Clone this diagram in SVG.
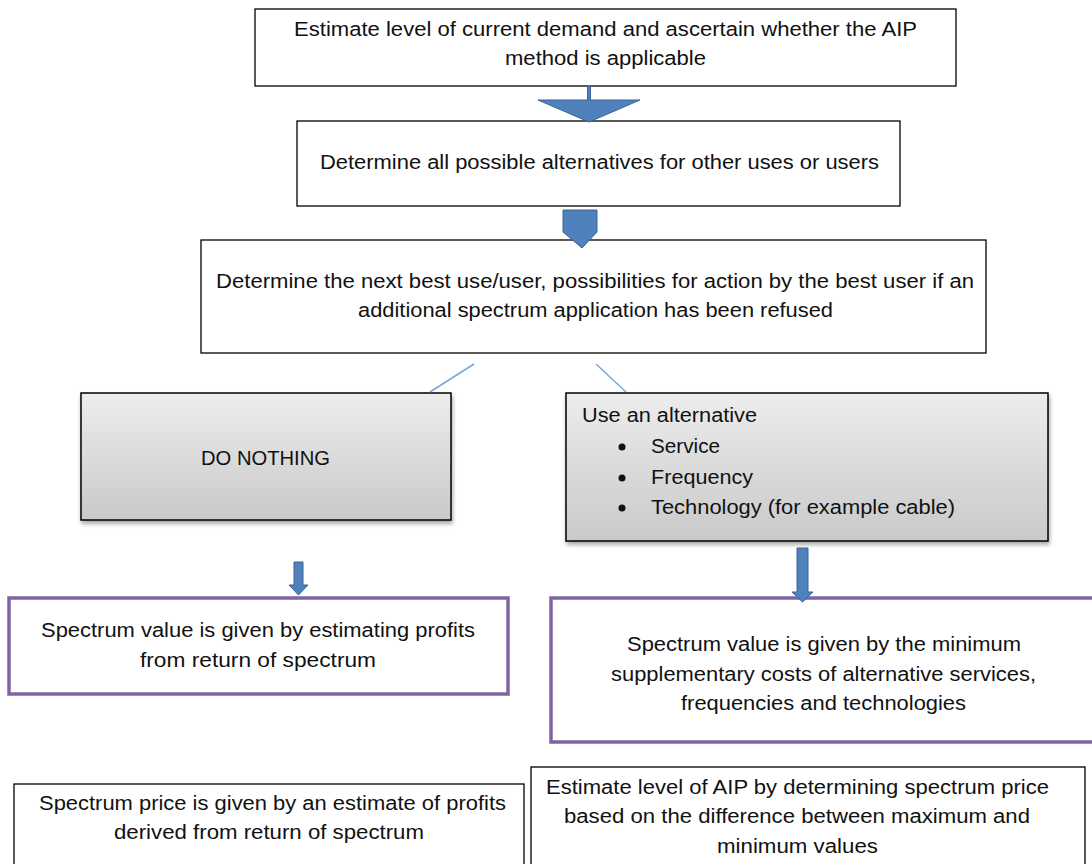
<svg xmlns="http://www.w3.org/2000/svg" width="1092" height="864" viewBox="0 0 1092 864">
<style>
.box{fill:#fff;stroke:#000;stroke-width:1.3}
.gbox{fill:url(#gg);stroke:#000;stroke-width:1.5;filter:url(#sh)}
.pbox{fill:#fff;stroke:#8064a2;stroke-width:3.5}
.t{font-family:"Liberation Sans",Arial,sans-serif;font-size:20px;fill:#111}
.c{text-anchor:middle}
.ln{stroke:#7aa6d6;stroke-width:1.5;fill:none}
.ar{fill:#4f81bd;stroke:#3a6495;stroke-width:1}
</style>
<defs>
<linearGradient id="gg" x1="0" y1="0" x2="0" y2="1">
<stop offset="0" stop-color="#ededed"/>
<stop offset="1" stop-color="#c9c9c9"/>
</linearGradient>
<filter id="sh" x="-5%" y="-5%" width="110%" height="115%">
<feDropShadow dx="1" dy="3" stdDeviation="2" flood-color="#000" flood-opacity="0.35"/>
</filter>
</defs>
<g id="n1">
<rect class="box" x="255" y="9" width="701" height="77"/>
<text class="t c" x="605.5" y="36" textLength="623" lengthAdjust="spacingAndGlyphs">Estimate level of current demand and ascertain whether the AIP</text>
<text class="t c" x="605.5" y="65" textLength="201" lengthAdjust="spacingAndGlyphs">method is applicable</text>
</g>
<g id="n2">
<rect class="box" x="297" y="121" width="603" height="85"/>
<text class="t c" x="599.5" y="169" textLength="559" lengthAdjust="spacingAndGlyphs">Determine all possible alternatives for other uses or users</text>
</g>
<g id="n3">
<rect class="box" x="201" y="240" width="785" height="113"/>
<text class="t c" x="595" y="288" textLength="758" lengthAdjust="spacingAndGlyphs">Determine the next best use/user, possibilities for action by the best user if an</text>
<text class="t c" x="595.5" y="317" textLength="475" lengthAdjust="spacingAndGlyphs">additional spectrum application has been refused</text>
</g>
<g id="n4">
<rect class="gbox" x="81" y="393" width="370" height="127"/>
<text class="t c" x="265.5" y="465" textLength="129" lengthAdjust="spacingAndGlyphs">DO NOTHING</text>
</g>
<g id="n5">
<rect class="gbox" x="566" y="393" width="482" height="148"/>
<text class="t" x="582" y="422" textLength="175" lengthAdjust="spacingAndGlyphs">Use an alternative</text>
<circle cx="622" cy="447" r="3.5" fill="#111"/>
<circle cx="622" cy="478" r="3.5" fill="#111"/>
<circle cx="622" cy="508" r="3.5" fill="#111"/>
<text class="t" x="651" y="453" textLength="69" lengthAdjust="spacingAndGlyphs">Service</text>
<text class="t" x="651" y="484" textLength="102" lengthAdjust="spacingAndGlyphs">Frequency</text>
<text class="t" x="651" y="514" textLength="304" lengthAdjust="spacingAndGlyphs">Technology (for example cable)</text>
</g>
<g id="n6">
<rect class="pbox" x="9" y="598" width="499" height="96"/>
<text class="t c" x="258" y="637" textLength="434" lengthAdjust="spacingAndGlyphs">Spectrum value is given by estimating profits</text>
<text class="t c" x="258" y="667" textLength="236" lengthAdjust="spacingAndGlyphs">from return of spectrum</text>
</g>
<g id="n7">
<rect class="pbox" x="551" y="598" width="545" height="144"/>
<text class="t c" x="824" y="651" textLength="394" lengthAdjust="spacingAndGlyphs">Spectrum value is given by the minimum</text>
<text class="t c" x="823.5" y="681" textLength="425" lengthAdjust="spacingAndGlyphs">supplementary costs of alternative services,</text>
<text class="t c" x="823.5" y="710" textLength="285" lengthAdjust="spacingAndGlyphs">frequencies and technologies</text>
</g>
<g id="n8">
<rect class="box" x="14" y="784" width="510" height="90"/>
<text class="t c" x="272.5" y="810" textLength="467" lengthAdjust="spacingAndGlyphs">Spectrum price is given by an estimate of profits</text>
<text class="t c" x="269" y="839" textLength="310" lengthAdjust="spacingAndGlyphs">derived from return of spectrum</text>
</g>
<g id="n9">
<rect class="box" x="531" y="767" width="554" height="107"/>
<text class="t c" x="797.5" y="794" textLength="503" lengthAdjust="spacingAndGlyphs">Estimate level of AIP by determining spectrum price</text>
<text class="t c" x="797" y="823" textLength="466" lengthAdjust="spacingAndGlyphs">based on the difference between maximum and</text>
<text class="t c" x="797.5" y="853" textLength="161" lengthAdjust="spacingAndGlyphs">minimum values</text>
</g>
<g id="connectors">
<path class="ar" d="M587.5 86 V100 H538 L589 122 L640 100 H590.5 V86 Z"/>
<path class="ar" d="M563 210 H597 V232 L582 248 L563 232 Z"/>
<line class="ln" x1="474" y1="364" x2="430" y2="392"/>
<line class="ln" x1="596" y1="364" x2="626" y2="392"/>
<path class="ar" d="M294 562 H303 V585 H308 L298.5 595 L289 585 H294 Z"/>
<path class="ar" d="M797 548 H808 V592 H813 L802.5 602 L792 592 H797 Z"/>
</g>
</svg>
